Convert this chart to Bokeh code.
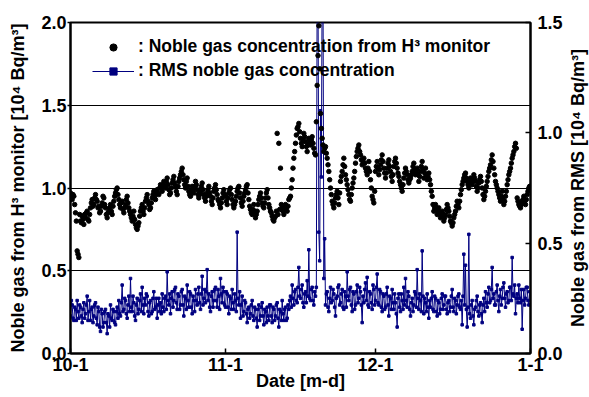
import math
import pandas as pd
from bokeh.plotting import figure
from bokeh.models import (Range1d, LinearAxis, FixedTicker, Legend, LegendItem,
                          PrintfTickFormatter, Label)
from bokeh.embed import file_html
from bokeh.resources import INLINE

# ---------------- data ----------------
start_date = "2008-10-01"
sample_step = "4h"   # readings alternate between the "a" and "b" lists

# H3 monitor noble gas concentration [10^4 Bq/m3] (left axis)
h3_oct_a = [0.97, 0.93, 0.95, 0.85, 0.62, 0.58, 0.80, 0.83, 0.78,
            0.82, 0.86, 0.80, 0.88, 0.93, 0.90, 0.96, 0.92, 0.89,
            0.86, 0.91, 0.94, 0.88, 0.82, 0.86, 0.90, 0.84, 0.92,
            0.97, 1.00, 0.93, 0.88, 0.92, 0.85, 0.90, 0.95, 0.88,
            0.84, 0.80, 0.86, 0.78, 0.75, 0.79, 0.86, 0.90, 0.84,
            0.92, 0.96, 0.90, 0.88, 0.94, 0.98, 0.93, 0.99, 0.96,
            1.02, 0.98, 1.04, 1.00, 1.06, 0.99, 0.97, 1.03, 1.07,
            1.01, 0.96, 1.04, 1.08, 1.12, 1.05, 1.00, 1.06, 0.98,
            0.95, 1.01, 0.97, 1.04, 0.99, 0.94, 0.98, 1.03, 0.96,
            0.92, 0.97, 1.01, 0.95, 0.90, 0.98, 1.02, 0.96, 0.92,
            0.88, 0.94, 0.99]
h3_oct_b = [0.94, 0.96, 0.90, 0.80, 0.60, 0.84, 0.79, 0.81, 0.84,
            0.85, 0.81, 0.84, 0.91, 0.89, 0.94, 0.93, 0.88, 0.85,
            0.89, 0.95, 0.90, 0.84, 0.85, 0.88, 0.86, 0.89, 0.95,
            0.99, 0.96, 0.90, 0.91, 0.87, 0.88, 0.93, 0.91, 0.86,
            0.82, 0.83, 0.81, 0.76, 0.77, 0.83, 0.88, 0.86, 0.88,
            0.94, 0.92, 0.87, 0.91, 0.96, 0.95, 0.97, 0.97, 1.00,
            1.00, 1.02, 1.01, 1.04, 1.02, 0.96, 1.00, 1.05, 1.03,
            0.98, 1.01, 1.06, 1.10, 1.08, 1.02, 1.04, 1.01, 0.96,
            0.98, 0.99, 1.01, 1.02, 0.96, 0.96, 1.01, 0.99, 0.94,
            0.95, 0.99, 0.97, 0.92, 0.94, 1.00, 0.99, 0.93, 0.90,
            0.91, 0.97, 0.96]
h3_nov_a = [0.95, 0.90, 0.97, 1.00, 0.93, 0.88, 0.92, 0.98, 1.01,
            0.94, 0.89, 0.95, 0.99, 1.02, 0.93, 0.87, 0.84, 0.90,
            0.82, 0.86, 0.93, 0.97, 0.91, 0.88, 0.94, 0.99, 0.90,
            0.86, 0.83, 0.80, 0.83, 1.33, 1.27, 1.12, 0.88, 0.84,
            0.90, 0.86, 0.93, 0.95, 1.05, 1.18, 1.27, 1.36, 1.39,
            1.30, 1.25, 1.33, 1.28, 1.22, 1.30, 1.26, 1.31, 1.24,
            1.20, 1.62, 1.98, 1.45, 1.30, 1.22, 1.25, 1.18, 1.10,
            1.00, 0.92, 0.88, 0.94, 0.98, 0.90, 1.04, 1.10, 1.18,
            1.08, 1.02, 0.96, 0.92, 1.00, 1.06, 1.15, 1.22, 1.26,
            1.20, 1.14, 1.18, 1.12, 1.08, 1.16, 1.05, 0.95, 0.91]
h3_nov_b = [0.92, 0.94, 0.99, 0.96, 0.90, 0.90, 0.95, 1.00, 0.97,
            0.91, 0.92, 0.97, 1.01, 0.97, 0.89, 0.85, 0.87, 0.86,
            0.84, 0.90, 0.95, 0.94, 0.89, 0.91, 0.97, 0.94, 0.88,
            0.85, 0.81, 0.82, 0.86, 0.84, 0.87, 0.90, 0.86, 0.87,
            0.88, 0.89, 0.94, 1.00, 1.12, 1.22, 1.32, 1.37, 1.34,
            1.27, 1.29, 1.31, 1.25, 1.26, 1.28, 1.29, 1.27, 1.21,
            1.40, 1.80, 1.72, 1.36, 1.26, 1.24, 1.21, 1.14, 1.05,
            0.96, 0.90, 0.91, 0.96, 0.94, 0.97, 1.07, 1.14, 1.13,
            1.05, 0.99, 0.93, 0.96, 1.03, 1.10, 1.19, 1.24, 1.22,
            1.17, 1.16, 1.15, 1.10, 1.12, 1.10, 1.00, 0.93, 0.98]
h3_dec_a = [1.10, 1.16, 1.08, 1.14, 1.20, 1.12, 1.06, 1.12, 1.17,
            1.10, 1.04, 1.13, 1.18, 1.12, 1.07, 1.02, 0.98, 1.06,
            1.12, 1.08, 1.03, 1.06, 1.10, 1.15, 1.08, 1.12, 1.04,
            1.10, 1.16, 1.06, 1.12, 1.05, 1.09, 1.02, 0.95, 0.86,
            0.90, 0.84, 0.88, 0.82, 0.86, 0.80, 0.84, 0.90, 0.86,
            0.80, 0.77, 0.82, 0.86, 0.92, 0.88, 0.96, 1.02, 1.06,
            1.09, 1.04, 1.00, 1.06, 1.02, 1.08, 1.04, 0.98, 1.03,
            1.07, 1.00, 0.93, 0.98, 1.04, 1.10, 1.14, 1.20, 1.12,
            1.04, 1.00, 0.96, 0.92, 0.98, 0.90, 0.95, 1.02, 1.08,
            1.12, 1.18, 1.22, 1.27, 0.94, 0.90, 0.88, 0.92, 0.95,
            0.90, 0.96, 1.00]
h3_dec_b = [1.13, 1.12, 1.11, 1.17, 1.16, 1.09, 1.09, 1.15, 1.13,
            1.07, 1.08, 1.16, 1.15, 1.09, 1.04, 1.00, 1.02, 1.09,
            1.10, 1.05, 1.05, 1.08, 1.13, 1.11, 1.10, 1.08, 1.07,
            1.13, 1.11, 1.09, 1.08, 1.07, 1.05, 0.98, 0.90, 0.88,
            0.87, 0.86, 0.85, 0.84, 0.83, 0.82, 0.87, 0.88, 0.83,
            0.79, 0.79, 0.84, 0.89, 0.90, 0.92, 0.99, 1.04, 1.08,
            1.06, 1.02, 1.03, 1.04, 1.05, 1.06, 1.01, 1.00, 1.05,
            1.04, 0.96, 0.95, 1.01, 1.07, 1.12, 1.17, 1.16, 1.08,
            1.02, 0.98, 0.94, 0.95, 0.93, 0.92, 0.98, 1.05, 1.10,
            1.15, 1.20, 1.25, 1.24, 0.92, 0.89, 0.90, 0.93, 0.92,
            0.93, 0.98, 1.01]

# RMS noble gas concentration [10^4 Bq/m3] (right axis)
rms_oct_a = [0.17, 0.22, 0.15, 0.20, 0.24, 0.16, 0.21, 0.14, 0.23,
             0.18, 0.26, 0.19, 0.15, 0.21, 0.17, 0.23, 0.13, 0.19,
             0.10, 0.18, 0.14, 0.20, 0.09, 0.17, 0.22, 0.15, 0.19,
             0.13, 0.21, 0.24, 0.17, 0.31, 0.20, 0.24, 0.16, 0.26,
             0.34, 0.19, 0.23, 0.15, 0.25, 0.20, 0.27, 0.30, 0.18,
             0.22, 0.26, 0.17, 0.24, 0.19, 0.28, 0.21, 0.16, 0.25,
             0.23, 0.27, 0.19, 0.26, 0.37, 0.22, 0.18, 0.28, 0.24,
             0.30, 0.20, 0.26, 0.22, 0.29, 0.17, 0.25, 0.31, 0.21,
             0.27, 0.18, 0.24, 0.29, 0.22, 0.30, 0.20, 0.35, 0.25,
             0.23, 0.38, 0.27, 0.19, 0.28, 0.24, 0.30, 0.21, 0.26,
             0.34, 0.23, 0.28]
rms_oct_b = [0.24, 0.16, 0.21, 0.15, 0.19, 0.22, 0.17, 0.20, 0.16,
             0.22, 0.15, 0.24, 0.20, 0.14, 0.22, 0.16, 0.21, 0.12,
             0.20, 0.12, 0.19, 0.14, 0.18, 0.12, 0.16, 0.20, 0.14,
             0.19, 0.16, 0.18, 0.23, 0.19, 0.25, 0.18, 0.22, 0.19,
             0.21, 0.26, 0.17, 0.22, 0.18, 0.24, 0.19, 0.22, 0.25,
             0.27, 0.19, 0.23, 0.18, 0.25, 0.20, 0.25, 0.22, 0.19,
             0.18, 0.21, 0.25, 0.20, 0.24, 0.27, 0.25, 0.21, 0.29,
             0.23, 0.27, 0.20, 0.28, 0.22, 0.26, 0.20, 0.24, 0.28,
             0.21, 0.26, 0.19, 0.24, 0.27, 0.23, 0.27, 0.22, 0.29,
             0.28, 0.24, 0.21, 0.26, 0.21, 0.29, 0.24, 0.29, 0.20,
             0.27, 0.30, 0.22]
rms_nov_a = [0.21, 0.27, 0.18, 0.25, 0.29, 0.20, 0.24, 0.55, 0.22,
             0.16, 0.26, 0.19, 0.23, 0.14, 0.21, 0.18, 0.24, 0.15,
             0.20, 0.12, 0.22, 0.17, 0.23, 0.13, 0.19, 0.21, 0.15,
             0.22, 0.14, 0.20, 0.17, 0.23, 0.12, 0.19, 0.24, 0.15,
             0.21, 0.16, 0.20, 0.26, 0.31, 0.22, 0.29, 0.23, 0.39,
             0.25, 0.31, 0.21, 0.28, 0.33, 0.47, 0.24, 0.30, 0.22,
             0.26, 1.70, 0.55, 1.10, 1.70, 0.34, 0.22, 0.28, 0.19,
             0.30, 0.24, 0.27, 0.17, 0.26, 0.31, 0.23, 0.29, 0.20,
             0.26, 0.37, 0.24, 0.30, 0.19, 0.27, 0.22, 0.31, 0.25,
             0.28, 0.14, 0.23, 0.32, 0.345, 0.21, 0.27, 0.20, 0.29]
rms_nov_b = [0.28, 0.21, 0.26, 0.20, 0.23, 0.27, 0.19, 0.25, 0.28,
             0.22, 0.17, 0.24, 0.18, 0.20, 0.16, 0.22, 0.17, 0.21,
             0.16, 0.20, 0.15, 0.21, 0.17, 0.20, 0.14, 0.17, 0.22,
             0.17, 0.21, 0.15, 0.22, 0.16, 0.20, 0.15, 0.18, 0.20,
             0.15, 0.22, 0.24, 0.21, 0.25, 0.28, 0.24, 0.30, 0.26,
             0.29, 0.23, 0.27, 0.23, 0.26, 0.25, 0.29, 0.24, 0.28,
             0.30, 1.70, 0.42, 0.80, 1.70, 0.52, 0.27, 0.21, 0.25,
             0.23, 0.29, 0.21, 0.25, 0.30, 0.22, 0.27, 0.21, 0.28,
             0.21, 0.26, 0.29, 0.22, 0.28, 0.20, 0.28, 0.23, 0.30,
             0.22, 0.26, 0.29, 0.24, 0.22, 0.28, 0.23, 0.31, 0.22]
rms_dec_a = [0.24, 0.36, 0.22, 0.28, 0.19, 0.26, 0.21, 0.30, 0.17,
             0.25, 0.29, 0.20, 0.23, 0.12, 0.27, 0.19, 0.24, 0.30,
             0.34, 0.21, 0.26, 0.17, 0.25, 0.22, 0.27, 0.38, 0.20,
             0.24, 0.465, 0.18, 0.23, 0.27, 0.16, 0.21, 0.28, 0.19,
             0.25, 0.17, 0.23, 0.20, 0.27, 0.22, 0.26, 0.18, 0.24,
             0.21, 0.29, 0.19, 0.24, 0.22, 0.27, 0.20, 0.13, 0.45,
             0.40, 0.12, 0.54, 0.16, 0.24, 0.13, 0.21, 0.26, 0.17,
             0.23, 0.14, 0.25, 0.28, 0.21, 0.30, 0.24, 0.39, 0.27,
             0.22, 0.31, 0.19, 0.29, 0.25, 0.32, 0.21, 0.28, 0.24,
             0.30, 0.435, 0.26, 0.18, 0.27, 0.31, 0.23, 0.11, 0.29,
             0.25, 0.30, 0.22]
rms_dec_b = [0.30, 0.23, 0.29, 0.21, 0.27, 0.20, 0.27, 0.22, 0.26,
             0.20, 0.23, 0.27, 0.18, 0.25, 0.21, 0.27, 0.20, 0.22,
             0.24, 0.28, 0.20, 0.23, 0.19, 0.28, 0.21, 0.25, 0.27,
             0.19, 0.26, 0.25, 0.19, 0.21, 0.24, 0.25, 0.20, 0.26,
             0.19, 0.24, 0.18, 0.25, 0.20, 0.26, 0.20, 0.23, 0.19,
             0.26, 0.21, 0.25, 0.18, 0.26, 0.21, 0.24, 0.26, 0.22,
             0.20, 0.21, 0.18, 0.22, 0.17, 0.20, 0.24, 0.19, 0.22,
             0.18, 0.22, 0.19, 0.23, 0.27, 0.23, 0.29, 0.25, 0.22,
             0.28, 0.24, 0.26, 0.22, 0.30, 0.25, 0.27, 0.23, 0.30,
             0.24, 0.27, 0.31, 0.25, 0.23, 0.25, 0.29, 0.24, 0.22,
             0.30, 0.24, 0.28]

tick_dates = ["2008-10-01", "2008-11-01", "2008-12-01", "2009-01-01"]
tick_labels = ["10-1", "11-1", "12-1", "1-1"]
left_ticks = [0.0, 0.5, 1.0, 1.5, 2.0]
left_grid = [0.5, 1.0, 1.5]
right_ticks = [0.0, 0.5, 1.0, 1.5]


# ---------------- build ----------------
def interleave(a, b):
    out = []
    for u, v in zip(a, b):
        out += [u, v]
    return out


h3 = (interleave(h3_oct_a, h3_oct_b) + interleave(h3_nov_a, h3_nov_b)
      + interleave(h3_dec_a, h3_dec_b))
rms = (interleave(rms_oct_a, rms_oct_b) + interleave(rms_nov_a, rms_nov_b)
       + interleave(rms_dec_a, rms_dec_b))
t_h3 = pd.date_range(start_date, periods=len(h3), freq=sample_step)
t_rms = pd.date_range(start_date, periods=len(rms), freq=sample_step)

tick_ms = [int(pd.Timestamp(d).timestamp() * 1000) for d in tick_dates]

FONT = "Liberation Sans"
W, H = 589, 397
BL, BR, BT, BB = 70, 59, 22, 44
FW, FH = W - BL - BR, H - BT - BB

p = figure(width=W, height=H, x_axis_type="datetime",
           x_range=Range1d(tick_ms[0], tick_ms[-1]), y_range=Range1d(0, 2),
           output_backend="svg", toolbar_location=None,
           min_border_left=BL, min_border_right=BR,
           min_border_top=BT, min_border_bottom=BB)
p.extra_y_ranges = {"rms": Range1d(0, 1.5)}
p.background_fill_color = "white"
p.border_fill_color = "white"
p.outline_line_color = "black"
p.outline_line_width = 2

r_line = p.line(t_rms, rms, y_range_name="rms", line_color="#000080", line_width=1)
r_pts = p.scatter(t_rms, rms, y_range_name="rms", marker="square", size=2.5,
                  fill_color="#000080", line_color="#000080")
r_h3 = p.scatter(t_h3, h3, marker="circle", size=4.5, fill_color="black",
                 line_color="black")

# axes
right = LinearAxis(y_range_name="rms")
p.add_layout(right, "right")

for ax in (p.xaxis[0], p.yaxis[0], right):
    ax.axis_line_width = 2
    ax.axis_line_color = "black"
    ax.major_tick_line_width = 1.5
    ax.major_tick_line_color = "black"
    ax.minor_tick_line_color = None
    ax.major_label_text_font = FONT
    ax.major_label_text_font_style = "bold"
    ax.major_label_text_font_size = "18px"
    ax.major_label_text_color = "black"
    ax.axis_label_text_font = FONT
    ax.axis_label_text_font_style = "bold"
    ax.axis_label_text_font_size = "18px"
    ax.axis_label_text_color = "black"

xa = p.xaxis[0]
xa.ticker = FixedTicker(ticks=tick_ms)
xa.major_label_overrides = dict(zip(tick_ms, tick_labels))
xa.major_tick_in = 5
xa.major_tick_out = 0
xa.major_label_standoff = 4
xa.axis_label = "Date [m-d]"
xa.axis_label_standoff = -3

ya = p.yaxis[0]
ya.ticker = FixedTicker(ticks=left_ticks)
ya.formatter = PrintfTickFormatter(format="%.1f")
ya.major_tick_in = 0
ya.major_tick_out = 3
ya.major_label_standoff = 1
ya.axis_label = "Noble gas from H\u00b3 monitor [10\u2074 Bq/m\u00b3]"
ya.axis_label_standoff = 10

right.ticker = FixedTicker(ticks=right_ticks)
right.formatter = PrintfTickFormatter(format="%.1f")
right.major_tick_in = 5
right.major_tick_out = 0
right.major_label_standoff = 7

# right-hand axis title, reading bottom-to-top like the left one,
# placed in its own panel just outside the right axis
right_title = Label(x=12, y=FH / 2, x_units="screen", y_units="screen",
                    text="Noble gas from RMS [10\u2074 Bq/m\u00b3]",
                    angle=math.pi / 2, text_align="center", text_baseline="middle",
                    text_font=FONT, text_font_style="bold", text_font_size="18px",
                    text_color="black")
p.add_layout(right_title, "right")

p.xgrid.grid_line_color = None
p.ygrid.ticker = FixedTicker(ticks=left_grid)
p.ygrid.grid_line_color = "black"
p.ygrid.grid_line_width = 1

legend = Legend(items=[
    LegendItem(label=": Noble gas concentration from H\u00b3 monitor", renderers=[r_h3]),
    LegendItem(label=": RMS noble gas concentration", renderers=[r_line, r_pts]),
], location=(22, 272))
legend.glyph_width = 42
legend.glyph_height = 18
legend.label_height = 18
legend.label_standoff = 4
legend.spacing = 3
legend.padding = 0
legend.margin = 0
legend.border_line_color = None
legend.background_fill_alpha = 0
legend.label_text_font = FONT
legend.label_text_font_style = "bold"
legend.label_text_font_size = "17.5px"
legend.label_text_color = "black"
p.add_layout(legend, "center")

open("out.html", "w").write(file_html(p, INLINE))
